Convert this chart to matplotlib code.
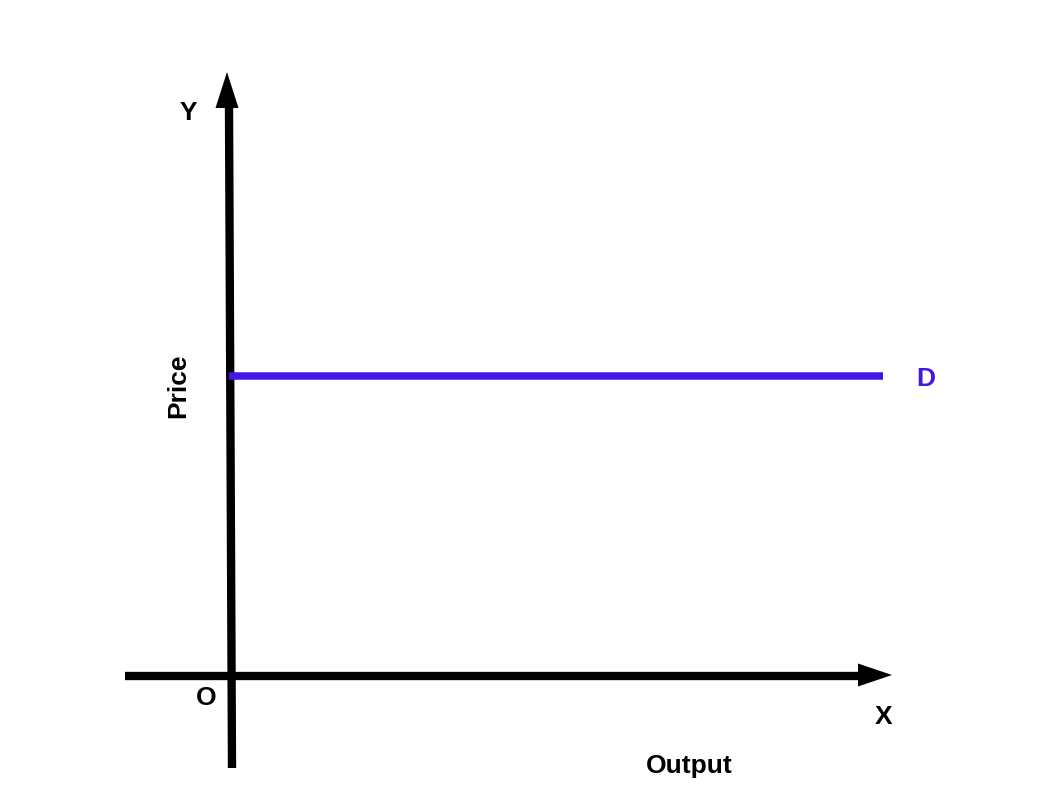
import matplotlib
matplotlib.use("Agg")
import matplotlib.pyplot as plt

plt.rcParams['font.family'] = ['Liberation Sans', 'DejaVu Sans']

# Diagram coordinates (origin O at 0,0)
y_axis_x = [1, -2]
y_axis_y = [-92, 568]
y_arrow_tip = (-4, 604)
x_axis_x = [-106, 628]
x_axis_y = [0, 0]
x_arrow_tip = (661, 1)
demand_output = [-2, 652]
demand_price = [300, 300]

axis_labels = {"Y": (-43, 563), "X": (653, -41), "O": (-25, -22)}
x_title = "Output"
y_title = "Price"
curve_label = "D"

fig = plt.figure(figsize=(10.58, 7.94), dpi=100)
ax = fig.add_axes([0, 0, 1, 1])
ax.set_xlim(-231, 827)
ax.set_ylim(-118, 676)
ax.axis('off')

lw = 6.0
purple = '#4116E6'
fs = 19

ax.plot(y_axis_x, y_axis_y, color='black', lw=lw, solid_capstyle='butt')
ax.plot(x_axis_x, x_axis_y, color='black', lw=lw, solid_capstyle='butt')

# arrow heads
tx, ty = y_arrow_tip
ax.fill([tx, tx - 11.5, tx + 11.5], [ty, ty - 36, ty - 36], color='black', lw=0)
tx, ty = x_arrow_tip
ax.fill([tx, tx - 34, tx - 34], [ty, ty + 11.5, ty - 11.5], color='black', lw=0)

ax.plot(demand_output, demand_price, color=purple, lw=5.4, solid_capstyle='butt')

for k, (x, y) in axis_labels.items():
    ax.text(x, y, k, fontsize=fs, fontweight='bold', ha='center', va='center', color='black')

ax.text(demand_output[1] + 43, demand_price[0] - 3, curve_label, fontsize=fs, fontweight='bold',
        ha='center', va='center', color=purple)
ax.text(458, -90, x_title, fontsize=fs, fontweight='bold', ha='center', va='center')
ax.text(-53, 290, y_title, fontsize=fs, fontweight='bold', ha='center', va='center', rotation=90)

fig.savefig('out.png', dpi=100)
